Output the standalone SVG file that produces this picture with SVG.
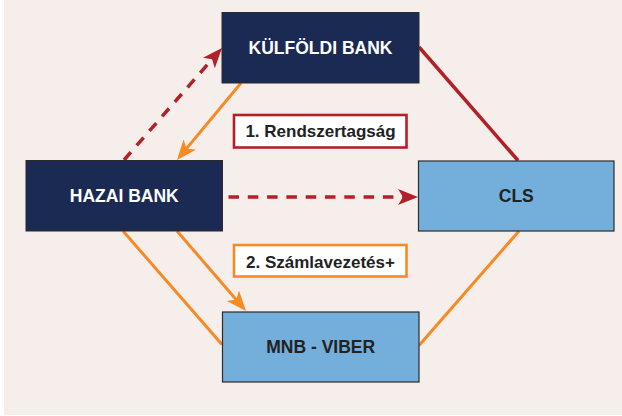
<svg xmlns="http://www.w3.org/2000/svg" width="622" height="416" viewBox="0 0 622 416">
<style>
.dark{fill:#1B2A52;stroke:#2b2b2b;stroke-width:1}
.light{fill:#74AEDA;stroke:#2b2b2b;stroke-width:1.2}
.nt{font-family:"Liberation Sans",Arial,sans-serif;font-weight:bold;font-size:17.5px;text-anchor:middle}
.wt{fill:#ffffff}
.bt{fill:#222222}
.lt{font-family:"Liberation Sans",Arial,sans-serif;font-weight:bold;font-size:17px;text-anchor:middle;fill:#222222}
.red{stroke:#B22028;stroke-width:3.5;fill:none}
.org{stroke:#F58A26;stroke-width:3;fill:none}
.dash{stroke-dasharray:10.5 8.8}
</style>
<defs>
<marker id="ahRed" markerUnits="userSpaceOnUse" markerWidth="22" markerHeight="18" refX="12" refY="8" orient="auto">
<path d="M0,0 L20,8 L0,16 L5,8 Z" fill="#B22028"/>
</marker>
<marker id="ahOrg" markerUnits="userSpaceOnUse" markerWidth="22" markerHeight="18" refX="12" refY="8" orient="auto">
<path d="M0,0 L20,8 L0,16 L5,8 Z" fill="#F58A26"/>
</marker>
</defs>
<rect x="0" y="0" width="622" height="416" fill="#ffffff"/>
<rect x="4" y="0" width="618" height="415" fill="#F6EEEB"/>
<g id="connectors">
<line class="red" x1="419" y1="47" x2="518" y2="160.5"/>
<line class="org" x1="123" y1="231" x2="222" y2="344.5"/>
<line class="org" x1="519" y1="231" x2="419" y2="345.5"/>
<line class="red dash" x1="124" y1="160" x2="216.7" y2="54" marker-end="url(#ahRed)"/>
<line class="red dash" x1="228.5" y1="197" x2="410" y2="197" marker-end="url(#ahRed)"/>
<line class="org" x1="241" y1="83" x2="182.1" y2="153.9" marker-end="url(#ahOrg)"/>
<line class="org" x1="177" y1="231" x2="240.8" y2="304.9" marker-end="url(#ahOrg)"/>
</g>
<g id="label1">
<rect x="234" y="115" width="172.5" height="32.5" fill="#ffffff" stroke="#B22028" stroke-width="2.6"/>
<text class="lt" x="320.5" y="137.3">1. Rendszertagság</text>
</g>
<g id="label2">
<rect x="234" y="245" width="172.5" height="31.5" fill="#ffffff" stroke="#F58A26" stroke-width="2.6"/>
<text class="lt" x="320.5" y="268.3">2. Számlavezetés+</text>
</g>
<g id="kulfoldi">
<rect class="dark" x="222" y="12.5" width="197" height="70.5"/>
<text class="nt wt" x="320.5" y="53.5">KÜLFÖLDI BANK</text>
</g>
<g id="hazai">
<rect class="dark" x="26" y="160.5" width="196.5" height="70.5"/>
<text class="nt wt" x="124.3" y="201.7">HAZAI BANK</text>
</g>
<g id="cls">
<rect class="light" x="418.5" y="161" width="195.5" height="70"/>
<text class="nt bt" x="516.3" y="202">CLS</text>
</g>
<g id="mnb">
<rect class="light" x="222.5" y="312" width="196.5" height="70"/>
<text class="nt bt" x="320.7" y="353.3">MNB - VIBER</text>
</g>
</svg>
